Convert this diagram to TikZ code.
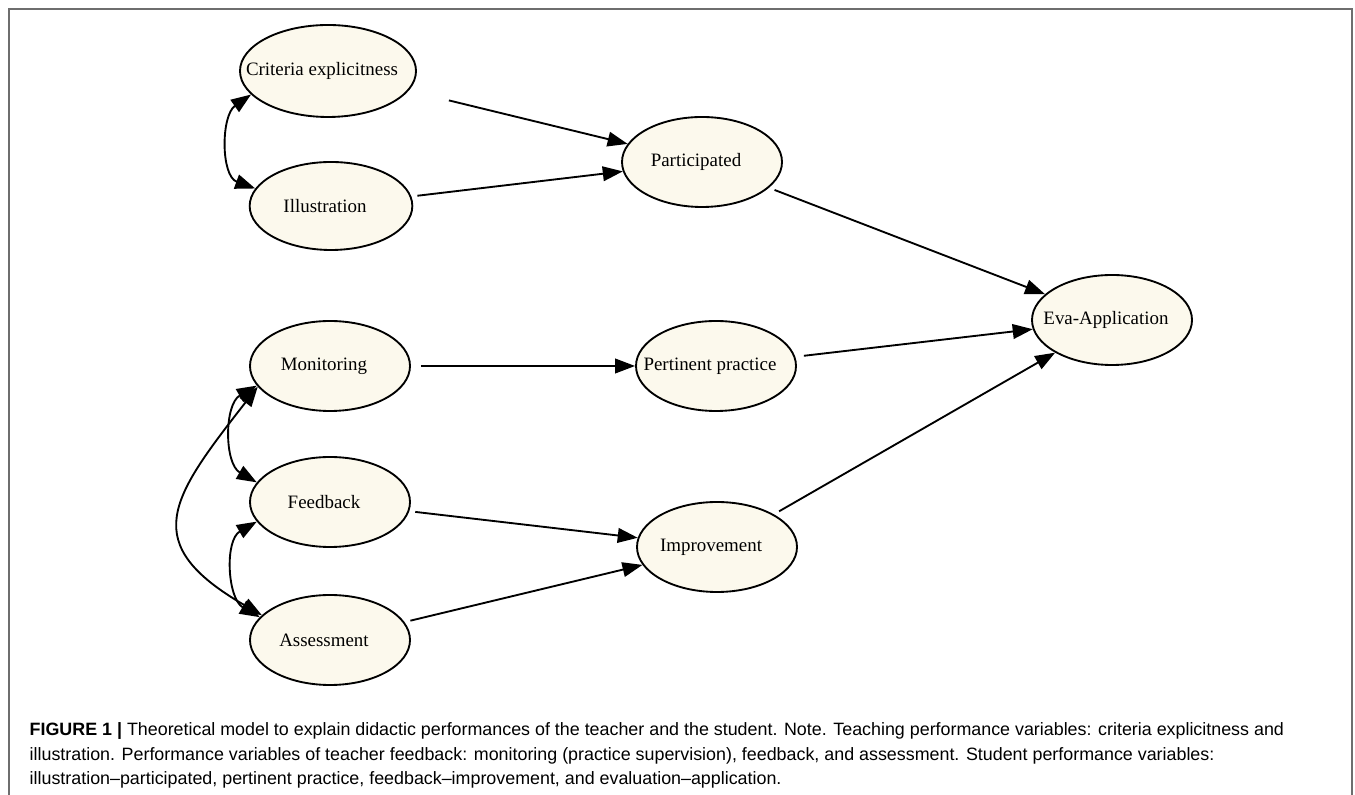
\documentclass[tikz,border=0pt]{standalone}
\usepackage{fontspec}
\setmainfont{Liberation Serif}
\setsansfont{Liberation Sans}
\usetikzlibrary{shapes.geometric,arrows.meta}

\definecolor{nodefill}{RGB}{252,249,237}
\definecolor{framegray}{RGB}{110,110,110}
\newcommand{\vname}[1]{\makebox[0pt]{#1\hspace{9pt}}}

\tikzset{
  >={Triangle[length=15pt,width=11pt]},
  var/.style={ellipse, draw, line width=1.4pt, fill=nodefill, minimum width=120pt,
    minimum height=67.5pt, inner sep=0pt, font=\fontsize{14.2}{17}\selectfont},
  effect/.style={->, line width=1.4pt, shorten <=4.5pt},
  cov/.style={<->, line width=1.4pt}
}

\begin{document}
\begin{tikzpicture}[x=0.75pt,y=0.75pt]
\useasboundingbox (0,0) rectangle (1355,795);
\draw [framegray, line width=1.2pt] (9,0) -- (9,786) -- (1352,786) -- (1352,0);

\node [var, minimum width=132pt, minimum height=69pt] (crit) at (328,724) {\vname{Criteria explicitness}};
\node [var, minimum width=122pt, minimum height=66pt] (illus) at (331,589) {\vname{Illustration}};
\node [var] (mon) at (330,429) {\vname{Monitoring}};
\node [var] (feed) at (330,293) {\vname{Feedback}};
\node [var] (assess) at (330,155) {\vname{Assessment}};
\node [var] (part) at (702,633) {\vname{Participated}};
\node [var] (pert) at (716,429) {\vname{Pertinent practice}};
\node [var] (imp) at (717,248) {\vname{Improvement}};
\node [var] (eva) at (1112,475) {\vname{Eva-Application}};

\draw [effect, shorten <=31pt] (crit) -- (part);
\draw [effect] (illus) -- (part);
\draw [effect] (part) -- (eva);
\draw [effect, shorten <=7.5pt] (mon) -- (pert);
\draw [effect, shorten <=6.5pt] (pert) -- (eva);
\draw [effect] (imp) -- (eva);
\draw [effect] (feed) -- (imp);
\draw [effect] (assess) -- (imp);

\draw [cov] (crit.197) to [out=215, in=160] (illus.167);
\draw [cov] (mon.195) to [out=210, in=150] (feed.165);
\draw [cov] (feed.195) to [out=210, in=150] (assess.162);
\draw [cov] (mon.196) to [out=232, in=150, looseness=1.6] (assess.160);

\node [anchor=base west, align=left, font=\sffamily\fontsize{13.4}{18.4}\selectfont] (caption) at (25,10)
  {\textbf{FIGURE 1 |} Theoretical model to explain didactic performances of the teacher and the student. Note. Teaching performance variables: criteria explicitness and\\
   illustration. Performance variables of teacher feedback: monitoring (practice supervision), feedback, and assessment. Student performance variables:\\
   illustration--participated, pertinent practice, feedback--improvement, and evaluation--application.};
\end{tikzpicture}
\end{document}
